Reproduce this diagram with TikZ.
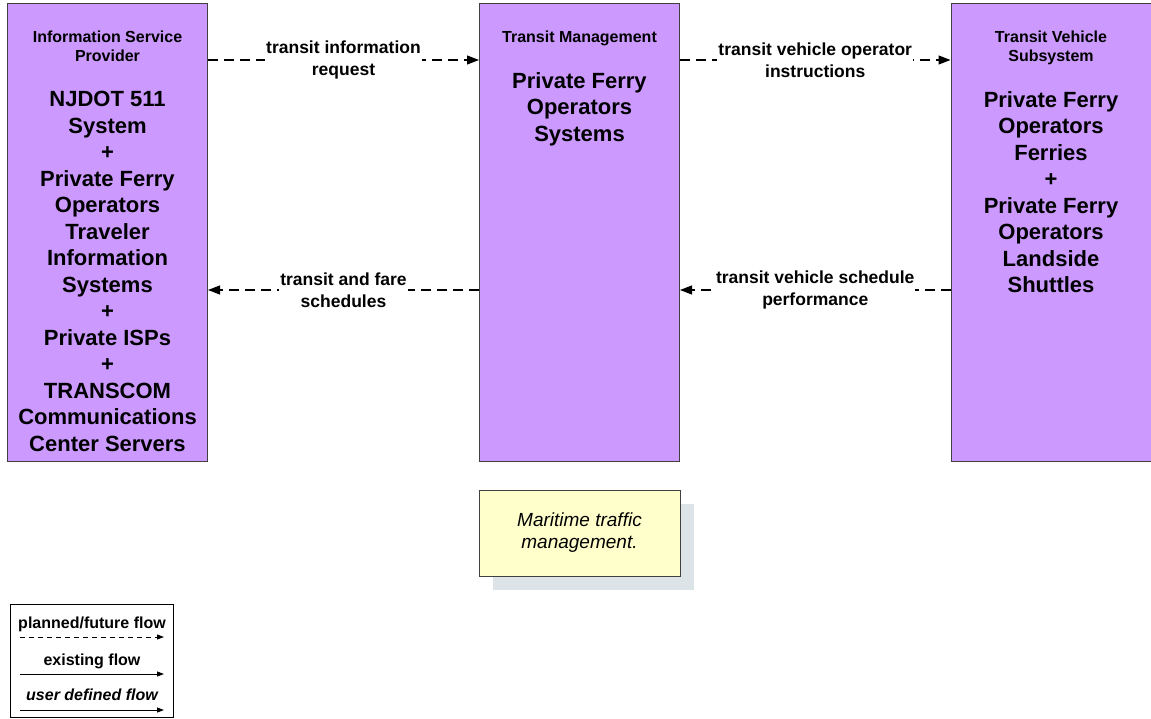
\documentclass[tikz,border=0pt]{standalone}
\usepackage{fontspec}
\setmainfont{Liberation Sans}
\usetikzlibrary{arrows.meta,positioning,shadows}
\definecolor{sysfill}{HTML}{CC99FF}
\definecolor{sysline}{HTML}{404040}
\definecolor{notefill}{HTML}{FFFFCC}
\definecolor{noteshadow}{HTML}{DCE4E8}

\tikzset{
	sysbox/.style={draw=sysline, fill=sysfill, line width=1pt, minimum width=200pt, minimum height=458pt, anchor=north west, inner sep=0pt},
	syshead/.style={align=center, inner sep=0pt, font=\fontsize{16}{19}\selectfont\bfseries},
	sysname/.style={align=center, inner sep=0pt, font=\fontsize{22}{26.5}\selectfont\bfseries},
	planned/.style={dash pattern=on 10pt off 6pt, line width=1.2pt, -{Triangle[length=12pt,width=9pt]}},
	flowlabel/.style={fill=white, align=center, inner sep=1pt, font=\fontsize{17.5}{21.5}\selectfont\bfseries},
	notebox/.style={draw=sysline, fill=notefill, line width=0.8pt, minimum width=201pt, minimum height=86pt, align=center, font=\fontsize{19}{22}\selectfont\itshape, drop shadow={shadow xshift=14pt, shadow yshift=-14pt, fill=noteshadow, opacity=1}},
	legendbox/.style={draw=black, line width=1pt, minimum width=163pt, minimum height=113pt, anchor=north west, inner sep=0pt},
	legendtext/.style={inner sep=0pt, font=\fontsize{16}{19}\selectfont\bfseries},
	legendline/.style={line width=1pt, -{Triangle[length=7pt,width=5pt]}}
}

\begin{document}
\begin{tikzpicture}[x=1pt,y=-1pt]
	\useasboundingbox (0,0) rectangle (1151,719);
	% subsystems
	\node[sysbox] (isp) at (7,3) {};
	\node[sysbox] (tm) at (479,3) {};
	\node[sysbox] (tvs) at (950.5,3) {};
	\node[syshead, below=28pt of isp.north] (isphead) {Information Service\\Provider};
	\node[sysname, below=88pt of isp.north] (ispname) {NJDOT 511\\System\\+\\Private Ferry\\Operators\\Traveler\\Information\\Systems\\+\\Private ISPs\\+\\TRANSCOM\\Communications\\Center Servers};
	\node[syshead, below=28pt of tm.north] (tmhead) {Transit Management};
	\node[sysname, below=69pt of tm.north] (tmname) {Private Ferry\\Operators\\Systems};
	\node[syshead, below=28pt of tvs.north] (tvshead) {Transit Vehicle\\Subsystem};
	\node[sysname, below=88pt of tvs.north] (tvsname) {Private Ferry\\Operators\\Ferries\\+\\Private Ferry\\Operators\\Landside\\Shuttles};
	% flows
	\coordinate (toprow) at (0,60);
	\coordinate (botrow) at (0,290);
	\draw[planned] (isp.east |- toprow) -- node[flowlabel] (inforeq) {transit information\\request} (tm.west |- toprow);
	\draw[planned] (tm.east |- toprow) -- node[flowlabel] (vehinstr) {transit vehicle operator\\instructions} (tvs.west |- toprow);
	\draw[planned] (tm.west |- botrow) -- node[flowlabel] (fare) {transit and fare\\schedules} (isp.east |- botrow);
	\draw[planned] (tvs.west |- botrow) -- node[flowlabel] (schedperf) {transit vehicle schedule\\performance} (tm.east |- botrow);
	% note
	\node[notebox] (note) at (579.5,533) {Maritime traffic\\management.};
	% legend
	\node[legendbox] (legend) at (10,604) {};
	\node[legendtext] (plannedtxt) at (92,624) {planned/future flow};
	\node[legendtext] (existtxt) at (92,661) {existing flow};
	\node[legendtext, font=\fontsize{16}{19}\selectfont\bfseries\itshape] (usertxt) at (92,695) {user defined flow};
	\coordinate (pa) at (20,637);
	\coordinate (pb) at (164,637);
	\coordinate (ea) at (20,674);
	\coordinate (eb) at (164,674);
	\coordinate (ua) at (20,710);
	\coordinate (ub) at (164,710);
	\draw[legendline, dash pattern=on 5pt off 4pt] (pa) -- (pb);
	\draw[legendline] (ea) -- (eb);
	\draw[legendline] (ua) -- (ub);
\end{tikzpicture}
\end{document}
